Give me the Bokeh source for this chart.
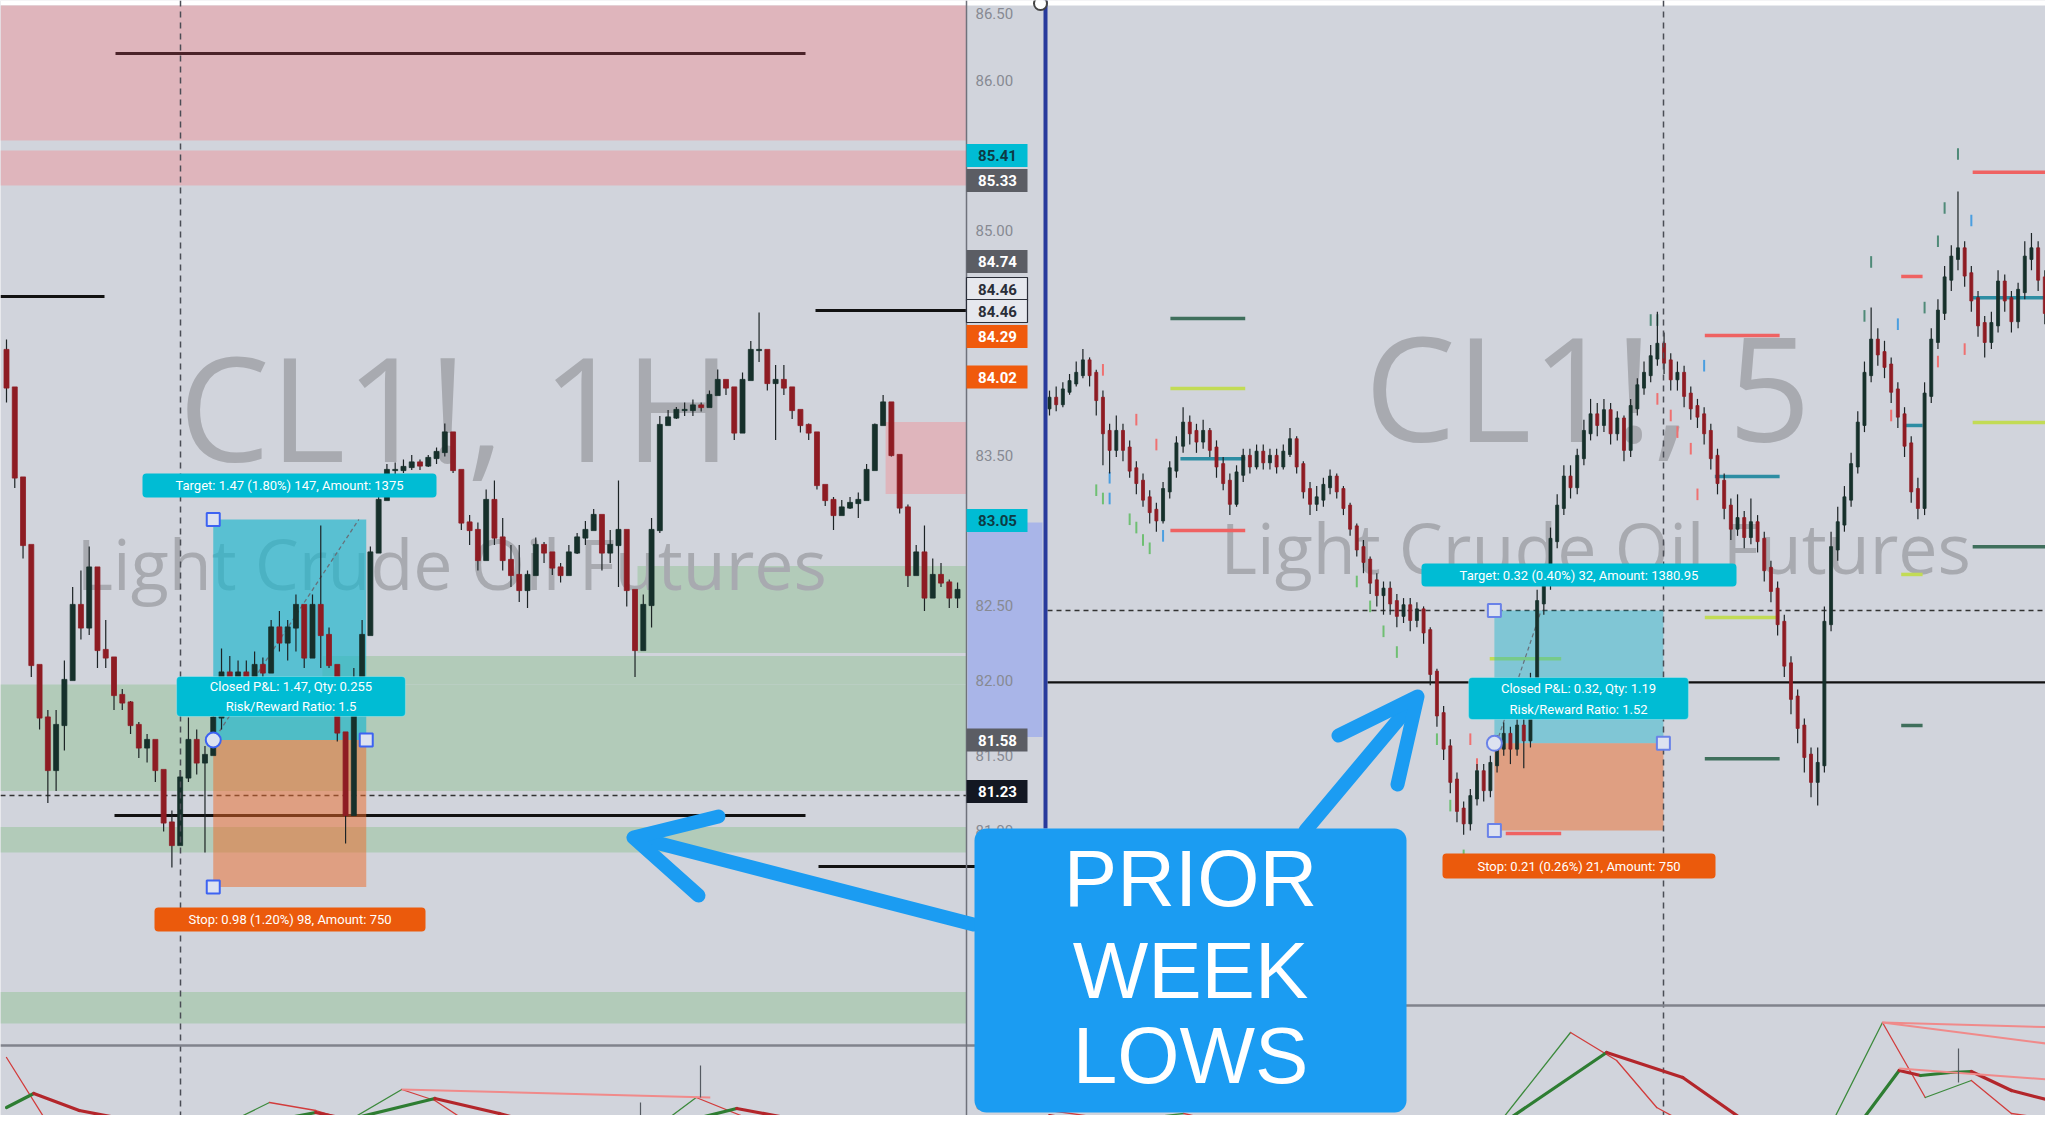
from bokeh.plotting import figure
from bokeh.models import Range1d, Label, BoxAnnotation
from bokeh.core.properties import value
from bokeh.embed import file_html
from bokeh.resources import INLINE

W, H = 2045, 1115
BG = "#d1d4dc"

# ---------------- LEFT PANE: CL1!, 1H candles ----------------
L_open_first = 84.20
L_high = [84.27, 83.95, 83.35, 82.90, 82.10, 81.80, 81.80, 82.13, 82.62, 82.73,
          82.89, 82.75, 82.40, 82.15, 81.94, 81.86, 81.72, 81.64, 81.60, 81.40,
          81.13, 81.40, 81.75, 81.67, 81.56, 81.80, 82.21, 82.16, 82.13, 82.13,
          82.19, 82.15, 82.40, 82.46, 82.40, 82.57, 82.45, 82.57, 83.03, 82.35,
          82.10, 81.65, 82.08, 82.40, 82.89, 83.22, 83.44, 83.45, 83.47, 83.50,
          83.47, 83.50, 83.55, 83.71, 83.60, 83.38, 83.10, 83.05, 83.27, 83.33,
          83.08, 82.90, 82.90, 82.73, 82.95, 82.92, 82.84, 82.78, 82.90, 82.98,
          83.06, 83.14, 83.06, 83.00, 83.33, 83.00, 82.49, 82.57, 83.08, 83.76,
          83.80, 83.82, 83.85, 83.87, 83.85, 83.93, 84.07, 84.00, 83.95, 84.05,
          84.26, 84.45, 84.20, 84.10, 84.10, 83.93, 83.78, 83.71, 83.52, 83.30,
          83.22, 83.20, 83.22, 83.25, 83.44, 83.71, 83.90, 83.76, 83.49, 83.17,
          82.90, 83.03, 82.81, 82.78, 82.67, 82.65]
L_low = [83.85, 83.28, 82.81, 82.02, 81.67, 81.18, 81.26, 81.53, 82.00, 82.27,
         82.30, 82.08, 82.08, 81.80, 81.80, 81.64, 81.48, 81.45, 81.32, 80.99,
         80.75, 80.99, 81.32, 81.37, 80.85, 81.50, 81.67, 81.80, 81.86, 81.97,
         82.00, 82.02, 82.05, 82.19, 82.13, 82.19, 82.08, 82.15, 82.08, 82.08,
         81.59, 80.91, 81.10, 81.90, 82.30, 82.85, 83.20, 83.35, 83.38, 83.40,
         83.40, 83.42, 83.44, 83.49, 83.38, 83.00, 82.90, 82.73, 82.95, 82.90,
         82.73, 82.62, 82.52, 82.48, 82.70, 82.78, 82.70, 82.65, 82.73, 82.84,
         82.90, 83.00, 82.73, 82.78, 82.62, 82.49, 82.02, 82.20, 82.35, 82.98,
         83.70, 83.74, 83.76, 83.76, 83.79, 83.85, 83.90, 83.90, 83.60, 83.70,
         84.00, 84.12, 83.93, 83.60, 83.90, 83.74, 83.65, 83.60, 83.27, 83.16,
         83.00, 83.11, 83.14, 83.08, 83.20, 83.40, 83.70, 83.49, 83.11, 82.62,
         82.70, 82.46, 82.55, 82.62, 82.48, 82.48]
L_close = [83.95, 83.35, 82.90, 82.10, 81.75, 81.40, 81.70, 82.00, 82.50, 82.35,
           82.75, 82.20, 82.15, 81.90, 81.85, 81.70, 81.55, 81.60, 81.40, 81.05,
           80.90, 81.35, 81.60, 81.45, 81.50, 81.75, 82.05, 81.90, 82.05, 82.00,
           82.10, 82.05, 82.35, 82.25, 82.35, 82.50, 82.15, 82.50, 82.30, 82.10,
           81.65, 81.10, 81.90, 82.30, 82.85, 83.20, 83.40, 83.40, 83.42, 83.45,
           83.43, 83.48, 83.52, 83.65, 83.40, 83.05, 83.00, 82.80, 83.20, 82.95,
           82.80, 82.70, 82.60, 82.70, 82.90, 82.85, 82.75, 82.70, 82.85, 82.95,
           83.00, 83.10, 82.85, 82.90, 83.00, 82.60, 82.20, 82.50, 83.00, 83.70,
           83.75, 83.80, 83.80, 83.83, 83.82, 83.90, 84.00, 83.95, 83.65, 84.00,
           84.20, 84.20, 83.98, 84.00, 83.95, 83.80, 83.70, 83.65, 83.30, 83.20,
           83.10, 83.15, 83.18, 83.20, 83.40, 83.70, 83.85, 83.50, 83.15, 82.70,
           82.85, 82.55, 82.70, 82.65, 82.55, 82.60]

# zones (price bands) on the 1H pane
L_zone_bottom = [85.597, 85.297, 83.24, 82.18, 81.97, 81.26, 80.85, 79.71]
L_zone_top = [86.497, 85.53, 83.72, 82.76, 82.16, 81.97, 81.02, 79.92]
L_zone_start = [-0.73, -0.73, 106.3, 76.3, 38.2, -0.73, -0.73, -0.73]
L_zone_kind = ["supply", "supply", "supply", "demand", "demand", "demand", "demand", "demand"]

# horizontal levels on the 1H pane
L_level_price = [86.177, 84.557, 84.463, 81.097, 80.757]
L_last_price = 81.23

# trade (long position) on the 1H pane
L_trade_x = [25.0, 43.5]
L_entry, L_target, L_stop = 81.60, 83.07, 80.62

# price scale of the 1H pane (visible tick labels)
L_ticks = [86.5, 86.0, 85.0, 83.5, 82.5, 82.0, 81.5, 81.0]
L_badge_val = [85.41, 85.33, 84.74, 84.46, 84.46, 84.29, 84.02, 83.05, 81.58, 81.23]
L_badge_kind = ["cyan", "grey", "grey", "white", "white", "orange", "orange", "cyan", "grey", "black"]

# ---------------- RIGHT PANE: CL1!, 5 candles ----------------
R_open_first = 81.72
R_close = [81.74, 81.73, 81.76, 81.78, 81.80, 81.83, 81.80, 81.74, 81.66, 81.62,
           81.66, 81.62, 81.57, 81.54, 81.50, 81.47, 81.45, 81.52, 81.57, 81.63,
           81.68, 81.66, 81.64, 81.66, 81.62, 81.58, 81.54, 81.49, 81.56, 81.60,
           81.58, 81.61, 81.59, 81.60, 81.58, 81.61, 81.64, 81.58, 81.52, 81.49,
           81.50, 81.53, 81.55, 81.52, 81.48, 81.43, 81.38, 81.35, 81.30, 81.27,
           81.28, 81.25, 81.22, 81.24, 81.21, 81.23, 81.18, 81.08, 80.98, 80.90,
           80.82, 80.75, 80.72, 80.78, 80.84, 80.80, 80.86, 80.90, 80.93, 80.90,
           80.95, 80.92, 81.05, 81.25, 81.30, 81.40, 81.48, 81.55, 81.53, 81.60,
           81.66, 81.70, 81.68, 81.71, 81.66, 81.69, 81.62, 81.72, 81.77, 81.80,
           81.84, 81.87, 81.83, 81.79, 81.80, 81.75, 81.72, 81.70, 81.66, 81.60,
           81.54, 81.48, 81.43, 81.45, 81.41, 81.44, 81.40, 81.33, 81.28, 81.20,
           81.10, 81.02, 80.95, 80.88, 80.82, 80.86, 81.20, 81.38, 81.44, 81.50,
           81.58, 81.68, 81.80, 81.88, 81.85, 81.82, 81.76, 81.70, 81.63, 81.52,
           81.48, 81.75, 81.88, 81.95, 82.03, 82.08, 82.10, 82.04, 81.98, 81.92,
           81.88, 81.92, 82.02, 81.98, 81.93, 82.00, 82.08, 82.10, 82.03, 81.95,
           81.85, 81.76]
R_high = [81.76, 81.77, 81.78, 81.80, 81.83, 81.86, 81.84, 81.81, 81.76, 81.68,
          81.70, 81.68, 81.64, 81.59, 81.56, 81.52, 81.49, 81.54, 81.59, 81.65,
          81.72, 81.70, 81.68, 81.69, 81.67, 81.64, 81.60, 81.56, 81.58, 81.62,
          81.62, 81.63, 81.63, 81.62, 81.62, 81.63, 81.67, 81.65, 81.59, 81.54,
          81.53, 81.55, 81.57, 81.56, 81.53, 81.49, 81.44, 81.40, 81.36, 81.32,
          81.30, 81.30, 81.27, 81.26, 81.26, 81.25, 81.24, 81.19, 81.09, 81.00,
          80.92, 80.84, 80.77, 80.80, 80.86, 80.86, 80.88, 80.93, 80.96, 80.95,
          80.98, 80.97, 81.08, 81.28, 81.34, 81.43, 81.51, 81.58, 81.58, 81.62,
          81.69, 81.74, 81.73, 81.74, 81.73, 81.71, 81.70, 81.74, 81.79, 81.83,
          81.87, 81.95, 81.90, 81.85, 81.83, 81.82, 81.77, 81.74, 81.72, 81.68,
          81.62, 81.56, 81.50, 81.51, 81.47, 81.50, 81.46, 81.42, 81.35, 81.30,
          81.22, 81.12, 81.04, 80.97, 80.90, 80.90, 81.24, 81.42, 81.48, 81.53,
          81.61, 81.71, 81.83, 81.96, 81.91, 81.88, 81.84, 81.78, 81.72, 81.65,
          81.55, 81.78, 81.91, 81.98, 82.06, 82.11, 82.24, 82.12, 82.06, 82.00,
          81.94, 81.95, 82.05, 82.04, 82.00, 82.02, 82.12, 82.14, 82.12, 82.05,
          81.97, 81.87]
R_low = [81.70, 81.71, 81.72, 81.75, 81.77, 81.79, 81.77, 81.70, 81.58, 81.56,
         81.60, 81.59, 81.55, 81.51, 81.48, 81.44, 81.42, 81.44, 81.50, 81.55,
         81.61, 81.63, 81.61, 81.62, 81.60, 81.55, 81.52, 81.46, 81.48, 81.54,
         81.56, 81.57, 81.57, 81.57, 81.56, 81.57, 81.60, 81.56, 81.50, 81.46,
         81.47, 81.48, 81.51, 81.50, 81.46, 81.41, 81.36, 81.32, 81.27, 81.24,
         81.22, 81.22, 81.19, 81.20, 81.18, 81.19, 81.15, 81.05, 80.95, 80.87,
         80.79, 80.72, 80.69, 80.70, 80.76, 80.77, 80.78, 80.84, 80.88, 80.86,
         80.88, 80.85, 80.90, 81.03, 81.22, 81.28, 81.38, 81.46, 81.50, 81.51,
         81.58, 81.64, 81.65, 81.66, 81.63, 81.64, 81.59, 81.60, 81.70, 81.75,
         81.78, 81.82, 81.80, 81.76, 81.76, 81.72, 81.69, 81.67, 81.63, 81.57,
         81.51, 81.45, 81.40, 81.41, 81.38, 81.39, 81.37, 81.30, 81.25, 81.17,
         81.07, 80.98, 80.91, 80.84, 80.78, 80.76, 80.84, 81.18, 81.35, 81.42,
         81.48, 81.56, 81.66, 81.78, 81.82, 81.79, 81.73, 81.67, 81.60, 81.49,
         81.45, 81.46, 81.73, 81.86, 81.93, 82.00, 82.05, 82.01, 81.95, 81.89,
         81.84, 81.86, 81.90, 81.95, 81.90, 81.91, 81.98, 82.05, 82.00, 81.92,
         81.82, 81.73]

# short indicator levels on the 5 pane: start bar, end bar, price, kind
R_lvl_x0 = [18.1, 18.1, 19.6, 18.1, 98.1, 99.6, 98.1, 98.1, 138.2, 138.2, 138.2, 138.2,
            127.5, 127.8, 127.5, 127.5, 65.9, 68.3]
R_lvl_x1 = [29.3, 29.3, 29.3, 29.3, 109.3, 109.3, 108.8, 109.3, 149.3, 149.3, 149.3, 149.3,
            130.7, 130.7, 130.7, 130.7, 76.6, 76.6]
R_lvl_p = [81.934, 81.765, 81.596, 81.423, 81.893, 81.553, 81.213, 80.873, 82.286, 81.984,
           81.683, 81.384, 82.035, 81.676, 81.317, 80.953, 81.114, 80.693]
R_lvl_kind = ["dg", "yg", "tl", "rd", "rd", "tl", "yg", "dg", "rd", "tl", "yg", "dg",
              "rd", "tl", "yg", "dg", "yg", "rd"]

# small signal dashes on the 5 pane: bar, price, kind
R_sig_k = [7, 8, 9, 12, 13, 14, 15, 8, 13, 16, 9, 17, 46, 48, 50, 52, 58, 60, 62, 56, 63, 64,
           90, 91, 91, 93, 94, 96, 97, 98, 122, 123, 126, 127, 131, 133, 134, 136, 133, 137, 138]
R_sig_p = [81.52, 81.50, 81.50, 81.45, 81.43, 81.40, 81.38, 81.81, 81.69, 81.63, 81.55, 81.41,
           81.30, 81.24, 81.18, 81.13, 80.92, 80.76, 80.64, 81.32, 80.92, 80.86,
           81.93, 81.93, 81.74, 81.70, 81.66, 81.62, 81.51, 81.82, 81.94, 82.07, 81.70, 81.92,
           81.96, 82.12, 82.20, 82.33, 81.83, 81.86, 82.17]
R_sig_kind = ["g", "g", "b", "g", "g", "g", "g", "r", "r", "r", "b", "b",
              "g", "g", "g", "g", "g", "g", "g", "r", "r", "r",
              "dg", "dg", "r", "r", "r", "r", "r", "b", "dg", "dg", "r", "b",
              "dg", "dg", "dg", "dg", "r", "r", "b"]
R_last_price = 81.23
R_line_price = 81.057
R_trade_x = [66.6, 91.9]
R_entry, R_target, R_stop = 80.91, 81.23, 80.70

# oscillator (lower pane): bar index / value
LI_slow_x = [0, 3.3, 8.8, 15.1, 18.4, 23.5, 27.9, 37.4, 41.4, 51.8, 59.6, 67.6, 72.4, 77.1, 88.3, 94.8, 101.0, 108.1, 116.1]
LI_slow_v = [1.6, 3.0, 1.3, 0.3, -0.8, -2.2, -0.4, 1.1, 0.4, 2.5, 1.0, -0.8, -1.7, -0.8, 1.5, 0.5, -0.8, -1.9, -2.7]
LI_fast_x = [0, 5.6, 11.4, 24.7, 31.8, 37.4, 41.4, 47.8, 51.8, 57.3, 63.4, 69.2, 74.0, 77.9, 83.4, 88.8, 94.6, 99.6, 116.1]
LI_fast_v = [6.6, -0.8, -3.7, -0.8, 2.1, 1.3, 0.3, 3.4, 2.3, -0.7, -1.7, -0.4, 0.0, -0.8, 2.6, 0.8, -0.8, -2.7, -3.7]
RI_slow_x = [0, 7.6, 20.1, 30.1, 49.6, 66.0, 83.4, 94.8, 104.6, 112.4, 120.4, 127.2, 130.4, 134.9, 138.0, 144.0, 151.5]
RI_slow_v = [0.8, -0.2, -0.4, -1.7, -2.7, -0.8, 7.1, 4.6, 0.0, -2.2, -0.8, 5.3, 4.8, 5.1, 5.2, 3.3, 2.0]
RI_fast_x = [0, 10.6, 20.1, 37.6, 58.5, 66.3, 78.0, 84.9, 90.9, 97.5, 112.4, 116.5, 124.7, 131.1, 138.0, 144.0, 151.5]
RI_fast_v = [1.3, 0.3, 1.0, -1.7, -2.7, -0.8, 9.1, 6.3, 1.6, -0.8, -3.7, -0.8, 10.1, 2.6, 4.3, 1.0, 0.3]

# ---------------- geometry helpers (pixel placement) ----------------
LSX = 8.27     # px per 1H bar
LSY = 150.0    # px per dollar (1H pane)
RSX = 6.68     # px per 5m bar
RSY = 415.0    # px per dollar (5m pane)
XL_S = -6 / LSX
YL_E = 86.53
XR_S = -1049 / RSX
YR_E = 82.70


def lx(px):
    return XL_S + px / LSX


def ly(py):
    return YL_E - py / LSY


def rx(px):
    return XR_S + px / RSX


p = figure(width=W, height=H,
           x_range=Range1d(XL_S, XL_S + W / LSX),
           y_range=Range1d(YL_E - H / LSY, YL_E),
           output_backend="svg", toolbar_location=None,
           x_axis_type=None, y_axis_type=None, min_border=0,
           background_fill_color=BG, border_fill_color=BG, outline_line_color=None)
p.grid.visible = False
p.extra_x_ranges = {"r": Range1d(XR_S, XR_S + W / RSX)}
p.extra_y_ranges = {"r": Range1d(YR_E - H / RSY, YR_E), "ind": Range1d((1123 - H) / 10.0, 112.3)}
RK = dict(x_range_name="r", y_range_name="r")

L_END = lx(966)
FONT = value("Open Sans")

# top white strip
p.quad(left=[lx(0)], right=[lx(W)], bottom=[ly(5)], top=[ly(-2)], fill_color="white", line_color=None)

# zones
zone_col = {"supply": "#dfb5bc", "demand": "#b2cbb9"}
p.quad(left=L_zone_start, right=[L_END] * len(L_zone_top), bottom=L_zone_bottom, top=L_zone_top,
       fill_color=[zone_col[k] for k in L_zone_kind], line_color=None)

# watermarks
WM = "#a8aab0"
p.text(x=[lx(178)], y=[ly(405)], text=["CL1!, 1H"], text_font=FONT, text_font_size="145px",
       text_color=WM, text_baseline="alphabetic")
p.text(x=[lx(76)], y=[ly(562)], text=["Light Crude Oil Futures"], text_font=FONT, text_font_size="70px",
       text_color=WM, text_baseline="alphabetic")
p.text(x=[lx(1364)], y=[ly(385)], text=["CL1!, 5"], text_font=FONT, text_font_size="145px",
       text_color=WM, text_baseline="alphabetic")
p.text(x=[lx(1220)], y=[ly(546)], text=["Light Crude Oil Futures"], text_font=FONT, text_font_size="70px",
       text_color=WM, text_baseline="alphabetic")

# 1H levels
p.segment(x0=[lx(115), lx(0), lx(815), lx(114), lx(818)],
          x1=[lx(805), lx(104), L_END, lx(805), lx(1042)],
          y0=L_level_price, y1=L_level_price,
          line_color=["#4b2329", "#111111", "#111111", "#111111", "#111111"], line_width=3)
p.segment(x0=[lx(0)], x1=[L_END], y0=[L_last_price], y1=[L_last_price],
          line_color="#333333", line_width=1.5, line_dash="5 4")

# 5m levels
rcol = {"dg": "#3f6f5c", "yg": "#c2db55", "tl": "#2d8da3", "rd": "#ef6262"}
p.segment(x0=R_lvl_x0, x1=R_lvl_x1, y0=R_lvl_p, y1=R_lvl_p,
          line_color=[rcol[k] for k in R_lvl_kind], line_width=3.5, **RK)
p.segment(x0=[rx(1047)], x1=[rx(W)], y0=[R_last_price], y1=[R_last_price],
          line_color="#333333", line_width=1.5, line_dash="5 4", **RK)
p.segment(x0=[rx(1047)], x1=[rx(W)], y0=[R_line_price], y1=[R_line_price],
          line_color="#111111", line_width=2.2, **RK)

# trade boxes
p.quad(left=[L_trade_x[0]], right=[L_trade_x[1]], bottom=[L_entry], top=[L_target],
       fill_color="#1cb6cd", fill_alpha=0.66, line_color=None)
p.quad(left=[L_trade_x[0]], right=[L_trade_x[1]], bottom=[L_stop], top=[L_entry],
       fill_color="#ee6a28", fill_alpha=0.5, line_color=None)
p.quad(left=[R_trade_x[0]], right=[R_trade_x[1]], bottom=[R_entry], top=[R_target],
       fill_color="#1cb6cd", fill_alpha=0.45, line_color=None, **RK)
p.quad(left=[R_trade_x[0]], right=[R_trade_x[1]], bottom=[R_stop], top=[R_entry],
       fill_color="#ee6a28", fill_alpha=0.5, line_color=None, **RK)
p.segment(x0=[L_trade_x[0] + 0.3], x1=[L_trade_x[1] - 0.9], y0=[L_entry + 0.02], y1=[L_target],
          line_color="#66707a", line_width=1.3, line_dash="4 3")
p.segment(x0=[R_trade_x[0] + 0.3], x1=[R_trade_x[0] + 7.0], y0=[R_entry], y1=[R_target],
          line_color="#66707a", line_width=1.2, line_dash="4 3", **RK)

# signal dashes
scol = {"g": "#6fbf73", "r": "#ef7070", "b": "#4a9ee0", "dg": "#4f8a78"}
p.segment(x0=R_sig_k, x1=R_sig_k, y0=[v - 0.014 for v in R_sig_p], y1=[v + 0.014 for v in R_sig_p],
          line_color=[scol[k] for k in R_sig_kind], line_width=2, **RK)


# candles
def candles(opens, highs, lows, closes, width, **kw):
    xs = list(range(len(closes)))
    tops = [max(o, c) + 0.004 for o, c in zip(opens, closes)]
    bots = [min(o, c) - 0.004 for o, c in zip(opens, closes)]
    cols = ["#16302b" if c >= o else "#8e1c23" for o, c in zip(opens, closes)]
    p.segment(x0=xs, x1=xs, y0=highs, y1=lows, line_color="#1c2325", line_width=1.2, **kw)
    p.vbar(x=xs, width=width, top=tops, bottom=bots, fill_color=cols, line_color=cols, line_width=0.8, **kw)


candles([L_open_first] + L_close[:-1], L_high, L_low, L_close, 0.6)
candles([R_open_first] + R_close[:-1], R_high, R_low, R_close, 0.45, **RK)

# vertical dashed cursor lines
p.segment(x0=[lx(180)], x1=[lx(180)], y0=[ly(0)], y1=[ly(H)], line_color="#4a4d55", line_width=1.5, line_dash="6 5")
p.segment(x0=[lx(1663)], x1=[lx(1663)], y0=[ly(0)], y1=[ly(H)], line_color="#4a4d55", line_width=1.5, line_dash="6 5")

# pane separators / borders
p.segment(x0=[lx(0)], x1=[lx(1042)], y0=[ly(1045)], y1=[ly(1045)], line_color="#80838c", line_width=2.5)
p.segment(x0=[lx(1047)], x1=[lx(W)], y0=[ly(1005)], y1=[ly(1005)], line_color="#80838c", line_width=2.5)
p.segment(x0=[lx(966)], x1=[lx(966)], y0=[ly(0)], y1=[ly(H)], line_color="#6f727b", line_width=1.5)


# oscillator pane
def osc(xs, vs, width, up, dn, xr):
    cols = [up if b >= a else dn for a, b in zip(vs[:-1], vs[1:])]
    p.segment(x0=xs[:-1], x1=xs[1:], y0=vs[:-1], y1=vs[1:], line_color=cols, line_width=width,
              line_cap="round", x_range_name=xr, y_range_name="ind")


osc(LI_fast_x, LI_fast_v, 1.3, "#3c8a3c", "#d23c3c", "default")
osc(LI_slow_x, LI_slow_v, 3.2, "#2e7d32", "#b3262b", "default")
osc(RI_fast_x, RI_fast_v, 1.3, "#3c8a3c", "#d23c3c", "r")
osc(RI_slow_x, RI_slow_v, 3.2, "#2e7d32", "#b3262b", "r")
p.segment(x0=[47.8], x1=[85.1], y0=[3.4], y1=[2.6], line_color="#f08a8a", line_width=2, y_range_name="ind")
p.segment(x0=[124.7, 124.7, 127.2], x1=[151.5, 151.5, 151.5], y0=[10.1, 10.1, 5.5], y1=[9.6, 7.8, 4.3],
          line_color="#f08a8a", line_width=2, x_range_name="r", y_range_name="ind")
p.segment(x0=[lx(640), lx(700)], x1=[lx(640), lx(700)], y0=[-0.8, 5.8], y1=[2.1, 2.6],
          line_color="#555a62", line_width=1.2, y_range_name="ind")
p.segment(x0=[lx(1958)], x1=[lx(1958)], y0=[7.5], y1=[4.1], line_color="#555a62", line_width=1.2, y_range_name="ind")

# price scale of the 1H pane
p.quad(left=[lx(967)], right=[lx(1042)], bottom=[L_entry + 0.02], top=[L_target - 0.02],
       fill_color="#a9b5e8", line_color=None)
tick_y = [min(t, ly(13)) for t in L_ticks]   # top tick label kept inside the canvas
p.text(x=[lx(975)] * len(L_ticks), y=tick_y, text=["%.2f" % t for t in L_ticks], text_font=value("Roboto"),
       text_font_size="15px", text_color="#878a93", text_baseline="middle")
p.text(x=[lx(975)], y=[ly(1104)], text=["0.00"], text_font=value("Roboto"),
       text_font_size="15px", text_color="#878a93", text_baseline="middle")
badge_bg = {"cyan": "#00bcd4", "grey": "#5b5d64", "white": "#e6e8ee", "orange": "#f05a0c", "black": "#131722"}
badge_fg = {"cyan": "#0d3b44", "grey": "white", "white": "#2a2e39", "orange": "white", "black": "white"}
badge_nudge = [-13, 0, -7.5, -22, 0, 0, 0, -2, -3, -4]   # px offsets applied to avoid overlaps
b_y = [v - n / LSY for v, n in zip(L_badge_val, badge_nudge)]
p.quad(left=[lx(966)] * len(b_y), right=[lx(1027)] * len(b_y),
       bottom=[y - 11.5 / LSY for y in b_y], top=[y + 11.5 / LSY for y in b_y],
       fill_color=[badge_bg[k] for k in L_badge_kind],
       line_color=["#2a2e39" if k == "white" else None for k in L_badge_kind], line_width=1.2)
p.text(x=[lx(997)] * len(b_y), y=b_y, text=["%.2f" % v for v in L_badge_val], text_font=value("Roboto"),
       text_font_size="15px", text_color=[badge_fg[k] for k in L_badge_kind],
       text_align="center", text_baseline="middle", text_font_style="bold")

# blue pane divider
p.segment(x0=[lx(1045)], x1=[lx(1045)], y0=[ly(0)], y1=[ly(828)], line_color="#283a9c", line_width=4)
p.scatter(x=[lx(1040)], y=[ly(3)], size=13, marker="circle", fill_color="white", line_color="#444", line_width=2)

# trade handles
p.scatter(x=[L_trade_x[0], L_trade_x[1], L_trade_x[0]], y=[L_target, L_entry, L_stop], marker="square",
          size=13, fill_color="#dde2f0", line_color="#3d63f2", line_width=2)
p.scatter(x=[L_trade_x[0]], y=[L_entry], marker="circle", size=15, fill_color="#dde2f0",
          line_color="#3d63f2", line_width=2)
p.scatter(x=[R_trade_x[0], R_trade_x[1], R_trade_x[0]], y=[R_target, R_entry, R_stop], marker="square",
          size=13, fill_color="#dde2f0", line_color="#6a82e8", line_width=2, **RK)
p.scatter(x=[R_trade_x[0]], y=[R_entry], marker="circle", size=15, fill_color="#dde2f0",
          line_color="#6a82e8", line_width=2, **RK)

# arrows of the callout
BLUE = "#1b9cf2"
p.line(x=[lx(973), lx(636)], y=[ly(924), ly(837)], line_color=BLUE, line_width=14, line_cap="round")
p.line(x=[lx(718), lx(633), lx(698)], y=[ly(816), ly(837), ly(895)], line_color=BLUE, line_width=14,
       line_cap="round", line_join="round")
p.line(x=[lx(1305), lx(1414)], y=[ly(830), ly(700)], line_color=BLUE, line_width=14, line_cap="round")
p.line(x=[lx(1338), lx(1417), lx(1397)], y=[ly(735), ly(696), ly(784)], line_color=BLUE, line_width=14,
       line_cap="round", line_join="round")


# tags
def tag(x0, x1, y0, y1, lines, fill, fg="white", border=None, size="13px"):
    p.add_layout(BoxAnnotation(left=lx(x0), right=lx(x1), top=ly(y0), bottom=ly(y1),
                               fill_color=fill, fill_alpha=1.0,
                               line_color=border, line_width=1.2, border_radius=4))
    n = len(lines)
    step = (y1 - y0) / n
    for i, t in enumerate(lines):
        p.add_layout(Label(x=lx((x0 + x1) / 2), y=ly(y0 + step * (i + 0.5)), text=t,
                           text_align="center", text_baseline="middle", text_color=fg,
                           text_font="Roboto", text_font_size=size))


CYAN = "#00bcd4"
ORNG = "#eb5a0c"
tag(142, 436, 473, 497, ["Target: 1.47 (1.80%) 147, Amount: 1375"], CYAN)
tag(176, 405, 676, 716, ["Closed P&L: 1.47, Qty: 0.255", "Risk/Reward Ratio: 1.5"], CYAN, border="#e8f7fa")
tag(154, 425, 907, 931, ["Stop: 0.98 (1.20%) 98, Amount: 750"], ORNG)
tag(1421, 1736, 563, 586, ["Target: 0.32 (0.40%) 32, Amount: 1380.95"], CYAN)
tag(1468, 1688, 677, 719, ["Closed P&L: 0.32, Qty: 1.19", "Risk/Reward Ratio: 1.52"], CYAN, border="#e8f7fa")
tag(1442, 1715, 853, 878, ["Stop: 0.21 (0.26%) 21, Amount: 750"], ORNG)

# callout box
p.add_layout(BoxAnnotation(left=lx(974), right=lx(1406), top=ly(828), bottom=ly(1112),
                           fill_color=BLUE, fill_alpha=1.0, line_color=None, border_radius=12))
for t, cy in [("PRIOR", 878), ("WEEK", 970), ("LOWS", 1055)]:
    p.add_layout(Label(x=lx(1190), y=ly(cy), text=t, text_align="center", text_baseline="middle",
                       text_color="white", text_font="Liberation Sans", text_font_size="80px"))

open("out.html", "w").write(file_html(p, INLINE))
